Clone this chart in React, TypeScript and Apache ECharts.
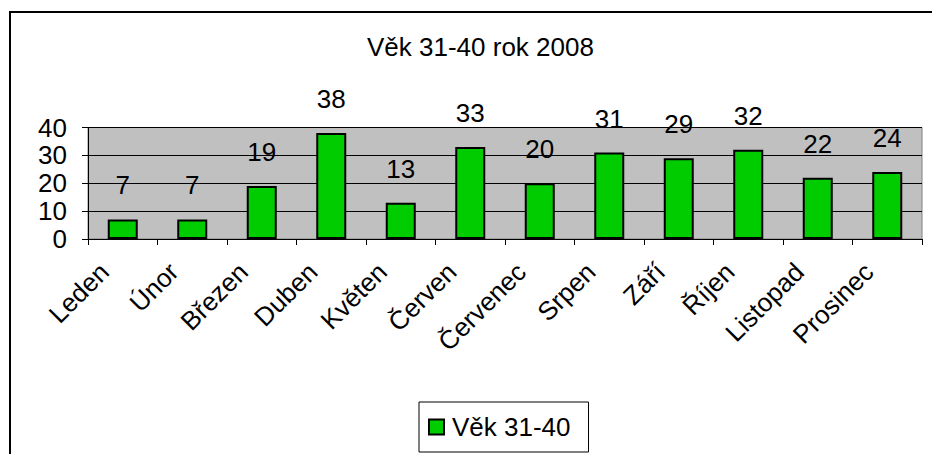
import React, { useEffect, useRef } from "react";
import * as echarts from "echarts";

const months = ["Leden", "Únor", "Březen", "Duben", "Květen", "Červen", "Červenec", "Srpen", "Září", "Říjen", "Listopad", "Prosinec"];
const values = [7, 7, 19, 38, 13, 33, 20, 31, 29, 32, 22, 24];
const seriesName = "Věk 31-40";
const titleText = "Věk 31-40 rok 2008";

const FONT = "'Liberation Sans', Arial, sans-serif";

export default function App() {
  const ref = useRef<HTMLDivElement>(null);
  useEffect(() => {
    if (!ref.current) return;
    const chart = echarts.init(ref.current, null, { renderer: "svg" });
    chart.setOption({
      animation: false,
      backgroundColor: "#fff",
      textStyle: { fontFamily: FONT },
      title: {
        text: titleText,
        left: 362,
        top: 29,
        textStyle: { fontFamily: FONT, fontSize: 26, fontWeight: "normal", color: "#000" },
      },
      graphic: [
        {
          type: "rect",
          shape: { x: 10, y: 12, width: 1000, height: 1000 },
          style: { fill: "none", stroke: "#000", lineWidth: 2 },
          silent: true,
          z: 100,
        },
      ],
      legend: {
        left: 419,
        top: 402,
        itemWidth: 15,
        itemHeight: 15,
        itemGap: 10,
        padding: [12, 18, 12, 9],
        borderColor: "#000",
        borderWidth: 1,
        icon: "rect",
        textStyle: { fontFamily: FONT, fontSize: 26, color: "#000", padding: [0, 0, 0, 3] },
        data: [seriesName],
      },
      grid: { left: 88, right: 10, top: 127.5, bottom: 215, show: true, backgroundColor: "#c0c0c0", borderColor: "#808080", borderWidth: 1 },
      xAxis: {
        type: "category",
        data: months,
        axisLine: { lineStyle: { color: "#000", width: 1 } },
        axisTick: { show: true, length: 6, inside: false, lineStyle: { color: "#000" } },
        axisLabel: { rotate: 45, margin: 10, padding: [0, 26, 0, 0], fontFamily: FONT, fontSize: 26, color: "#000", interval: 0 },
      },
      yAxis: {
        type: "value",
        min: 0,
        max: 40,
        interval: 10,
        axisLine: { show: true, lineStyle: { color: "#000", width: 1 } },
        axisTick: { show: true, length: 6, lineStyle: { color: "#000" } },
        axisLabel: { margin: 21, fontFamily: FONT, fontSize: 26, color: "#000" },
        splitLine: { show: true, lineStyle: { color: "#000", width: 1 } },
      },
      series: [
        {
          name: seriesName,
          type: "bar",
          data: values,
          barWidth: 30,
          itemStyle: { color: "#00cc00", borderColor: "#000", borderWidth: 2 },
          label: { show: true, position: "top", distance: 21, fontFamily: FONT, fontSize: 26, color: "#000" },
        },
      ],
    });
    return () => chart.dispose();
  }, []);
  return <div ref={ref} style={{ position: "fixed", left: 0, top: 0, width: 932, height: 454 }} />;
}
